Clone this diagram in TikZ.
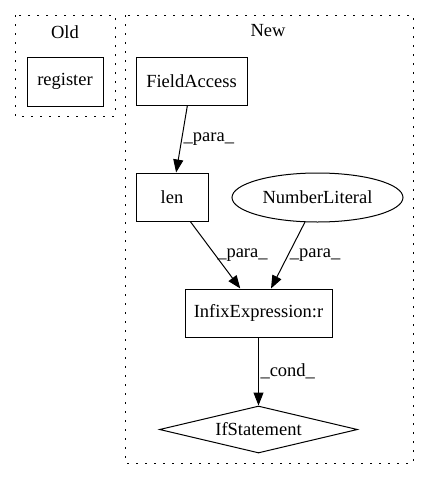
\documentclass[tikz,border=0pt]{standalone}
\usepackage{fontspec}
\setmainfont{Liberation Serif}
\usepackage{tikz}
\usetikzlibrary{shapes.geometric,arrows.meta}

\tikzset{
  box/.style={draw, rectangle, line width=1pt, inner sep=0pt},
  oval/.style={draw, ellipse, line width=1pt, inner sep=0pt},
  choice/.style={draw, diamond, aspect=4, line width=1pt, inner sep=0pt},
  cluster/.style={draw, line width=1pt, dash pattern=on 1.6pt off 7.4pt},
  flow/.style={line width=1pt, -{Triangle[length=13pt,width=10pt]}},
  tag/.style={right, inner sep=1.5pt}
}

\begin{document}
\begin{tikzpicture}[x=1pt, y=-1pt, font=\fontsize{18.5}{22}\selectfont]
        \useasboundingbox (0,0) rectangle (429,480);

        % Define clusters as dotted frames
        \draw[cluster] (15,15) rectangle (115,116);
        \node (old) at (65,32) {Old};
        \draw[cluster] (125,15) rectangle (413,463);
        \node (new) at (268,31) {New};

        % Define nodes
        \node[box, minimum width=76pt, minimum height=49pt] (register) at (65,81.5) {register};
        \node[box, minimum width=111pt, minimum height=48pt] (field) at (191.5,81) {FieldAccess};
        \node[box, minimum width=72pt, minimum height=48pt] (len) at (172,197) {len};
        \node[oval, minimum width=171pt, minimum height=49pt] (number) at (317.5,197.5) {NumberLiteral};
        \node[box, minimum width=147pt, minimum height=48pt] (infix) at (258.5,313) {InfixExpression:r};
        \node[choice, minimum width=198pt, minimum height=47pt] (ifstmt) at (258.5,429.5) {IfStatement};

        % Define edges
        \draw[flow] (field) -- (len) node[midway, tag] {\_para\_};
        \draw[flow] (len) -- (infix) node[midway, tag] {\_para\_};
        \draw[flow] (number) -- (infix) node[midway, tag] {\_para\_};
        \draw[flow] (infix) -- (ifstmt) node[midway, tag] {\_cond\_};
    \end{tikzpicture}
\end{document}
